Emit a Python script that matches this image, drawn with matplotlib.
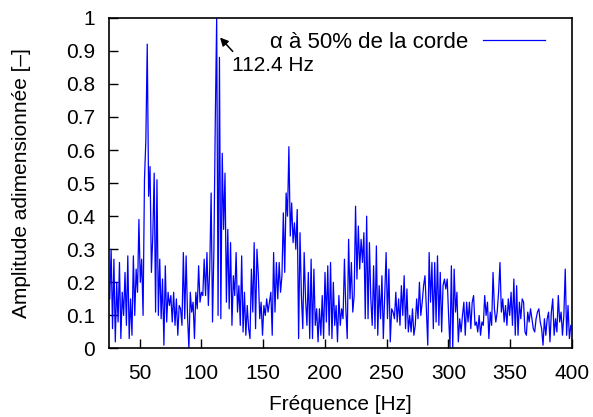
import numpy as np
import matplotlib
matplotlib.use('Agg')
import matplotlib.pyplot as plt

plt.rcParams['font.family'] = ['Liberation Sans', 'DejaVu Sans']
plt.rcParams['font.size'] = 15

# spectre, pas de 1.124 Hz (k = 23 ... 356)
df = 1.124
k_debut, k_fin = 23, 356

amp_25_78 = [0.15, 0.30, 0.06, 0.27, 0.02, 0.20, 0.08, 0.26, 0.03, 0.17,
             0.10, 0.23, 0.07, 0.28, 0.03, 0.15, 0.04, 0.28, 0.10, 0.24,
             0.17, 0.39, 0.20, 0.27, 0.10, 0.51, 0.63, 0.92, 0.46, 0.55,
             0.23, 0.34, 0.53, 0.11, 0.51, 0.10, 0.27, 0.09, 0.21, 0.01,
             0.25, 0.08, 0.17, 0.13, 0.16, 0.08, 0.17]
amp_78_131 = [0.07, 0.15, 0.04, 0.13, 0.12, 0.07, 0.29, 0.09, 0.28, 0.10,
              0.00, 0.17, 0.11, 0.14, 0.03, 0.17, 0.12, 0.25, 0.14, 0.17,
              0.16, 0.27, 0.16, 0.29, 0.13, 0.24, 0.47, 0.08, 0.30, 0.69,
              1.00, 0.10, 0.88, 0.09, 0.59, 0.36, 0.53, 0.14, 0.36, 0.12,
              0.32, 0.07, 0.22, 0.16, 0.29, 0.11, 0.19]
amp_131_185 = [0.07, 0.28, 0.05, 0.17, 0.04, 0.13, 0.06, 0.03, 0.24, 0.11,
               0.32, 0.06, 0.30, 0.22, 0.09, 0.14, 0.04, 0.13, 0.10, 0.15,
               0.11, 0.14, 0.17, 0.04, 0.29, 0.11, 0.26, 0.15, 0.26, 0.17,
               0.22, 0.41, 0.23, 0.47, 0.40, 0.61, 0.34, 0.44, 0.32, 0.38,
               0.30, 0.42, 0.03, 0.35, 0.16, 0.06, 0.29, 0.15]
amp_185_238 = [0.07, 0.23, 0.03, 0.27, 0.03, 0.24, 0.07, 0.12, 0.02, 0.12,
               0.04, 0.16, 0.03, 0.23, 0.08, 0.25, 0.04, 0.26, 0.03, 0.20,
               0.07, 0.13, 0.02, 0.16, 0.07, 0.12, 0.09, 0.27, 0.12, 0.03,
               0.33, 0.15, 0.26, 0.11, 0.16, 0.43, 0.21, 0.37, 0.24, 0.33,
               0.26, 0.35, 0.09, 0.40, 0.09, 0.32, 0.15]
amp_238_292 = [0.07, 0.25, 0.06, 0.31, 0.04, 0.19, 0.09, 0.22, 0.03, 0.16,
               0.29, 0.09, 0.24, 0.02, 0.12, 0.11, 0.09, 0.17, 0.08, 0.15,
               0.07, 0.19, 0.10, 0.22, 0.06, 0.18, 0.05, 0.10, 0.05, 0.12,
               0.04, 0.07, 0.15, 0.09, 0.20, 0.10, 0.14, 0.19, 0.22, 0.12,
               0.01, 0.29, 0.14, 0.26, 0.06, 0.26, 0.08, 0.28]
amp_292_344 = [0.07, 0.23, 0.05, 0.19, 0.21, 0.18, 0.21, 0.10, 0.00, 0.25,
               0.00, 0.24, 0.11, 0.17, 0.02, 0.09, 0.05, 0.10, 0.14, 0.04,
               0.14, 0.08, 0.14, 0.06, 0.14, 0.16, 0.07, 0.08, 0.05, 0.10,
               0.04, 0.08, 0.07, 0.16, 0.10, 0.14, 0.03, 0.11, 0.07, 0.23,
               0.12, 0.08, 0.11, 0.17, 0.26, 0.11, 0.15]
amp_345_400 = [0.08, 0.13, 0.07, 0.15, 0.10, 0.17, 0.07, 0.21, 0.04, 0.19,
               0.04, 0.14, 0.09, 0.15, 0.14, 0.05, 0.04, 0.11, 0.08, 0.12,
               0.09, 0.06, 0.05, 0.09, 0.11, 0.12, 0.08, 0.06, 0.01, 0.09,
               0.04, 0.09, 0.11, 0.02, 0.11, 0.15, 0.04, 0.09, 0.05, 0.16,
               0.08, 0.11, 0.04, 0.10, 0.24, 0.04, 0.13, 0.03, 0.07, 0.06]

amplitude = np.array(amp_25_78 + amp_78_131 + amp_131_185 + amp_185_238
                     + amp_238_292 + amp_292_344 + amp_345_400)
frequence = np.arange(k_debut, k_fin + 1) * df

pic_f = 112.4
xticks = [50, 100, 150, 200, 250, 300, 350, 400]
yticks = [0, 0.1, 0.2, 0.3, 0.4, 0.5, 0.6, 0.7, 0.8, 0.9, 1]
ylabels = ['0', '0.1', '0.2', '0.3', '0.4', '0.5', '0.6', '0.7', '0.8', '0.9', '1']

fig = plt.figure(figsize=(5.93, 4.17), dpi=100)
ax = fig.add_axes([0.1833, 0.1643, 0.7813, 0.7933])

ax.plot(frequence, amplitude, color='#0000ff', lw=0.9, label=u'\u03b1 \u00e0 50% de la corde')

ax.set_xlim(25, 400)
ax.set_ylim(0, 1)
ax.set_xticks(xticks)
ax.set_yticks(yticks)
ax.set_yticklabels(ylabels)
ax.tick_params(direction='in', length=6.5, width=1, colors='black')
ax.tick_params(axis='x', pad=11)
ax.tick_params(axis='y', pad=10)
for s in ax.spines.values():
    s.set_linewidth(1.2)

ax.set_xlabel(u'Fr\u00e9quence [Hz]')
ax.set_ylabel(u'Amplitude adimensionn\u00e9e [\u2013]')
ax.xaxis.set_label_coords(0.5, -0.140)
ax.yaxis.set_label_coords(-0.167, 0.5)

# fleche vers le pic
ax.annotate('', xy=(pic_f + 2.7, 0.94), xytext=(pic_f + 13.0, 0.898),
            arrowprops=dict(arrowstyle='-|>', color='black', lw=1.1, mutation_scale=12,
                            shrinkA=0, shrinkB=0))
ax.text(pic_f + 12.2, 0.855, '%.1f Hz' % pic_f, ha='left', va='center')

ax.legend(loc='upper right', bbox_to_anchor=(0.942, 0.957), frameon=False,
          markerfirst=False, handlelength=2.8, handletextpad=0.68,
          borderpad=0, borderaxespad=0, fontsize=16)

fig.savefig('out.png', dpi=100)
